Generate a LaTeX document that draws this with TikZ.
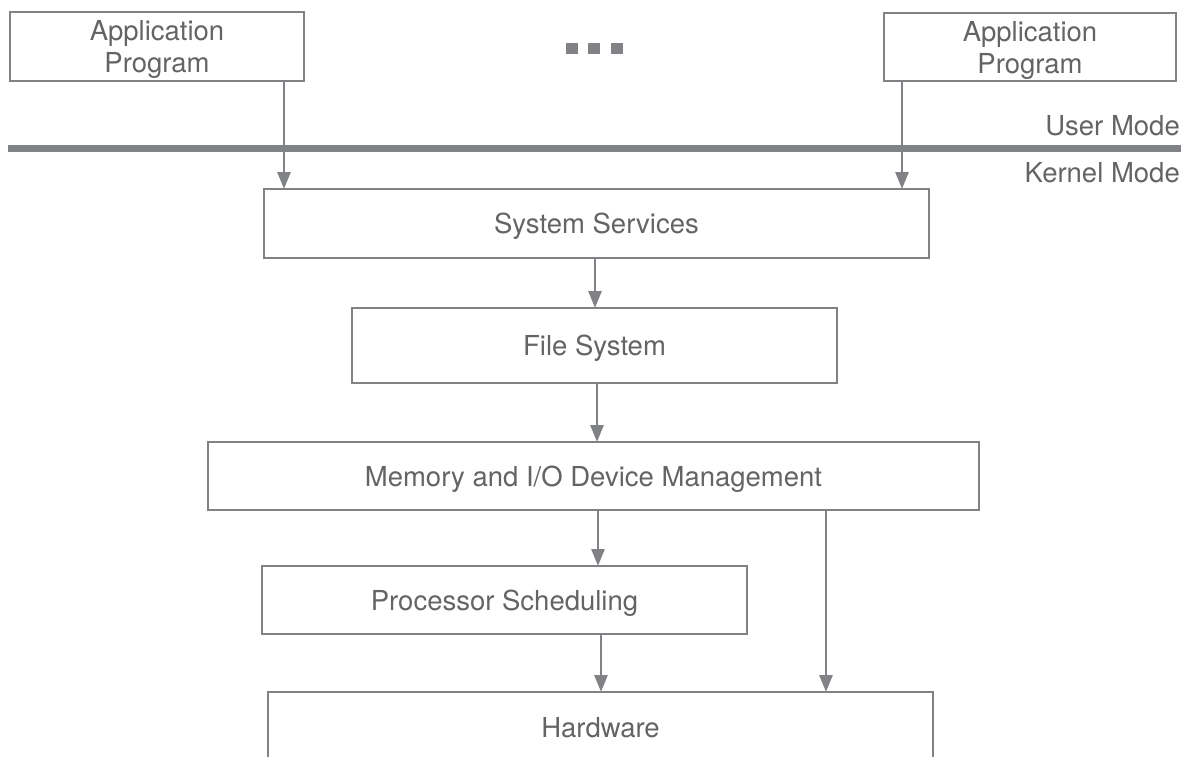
\documentclass[tikz,border=0pt]{standalone}
\usepackage{fontspec}
\setmainfont{TeX Gyre Heros}
\usetikzlibrary{arrows.meta}
\definecolor{linegray}{HTML}{808285}
\definecolor{textgray}{HTML}{636466}
% two centred lines, set a little lower than the box keeps them
\newcommand{\twolines}[2]{\raisebox{-4pt}[\height][\depth]{\begin{tabular}{@{}c@{}}#1\\[1pt]#2\end{tabular}}}
\tikzset{
  boxbase/.style={draw=linegray, line width=2.5pt, fill=white, text=textgray,
    rectangle, inner sep=0pt, outer sep=0pt,
    font=\fontsize{27.5}{31}\selectfont},
  layer/.style={boxbase, text height=20pt, text depth=0pt},
  program/.style={boxbase},
  flow/.style={draw=linegray, line width=2.8pt,
    -{Triangle[width=13pt,length=17pt]}},
  modelabel/.style={text=textgray, anchor=east, inner sep=0pt,
    text height=20pt, text depth=0pt,
    font=\fontsize{27.5}{31}\selectfont},
  dot/.style={fill=linegray, draw=none}
}
\begin{document}
\begin{tikzpicture}[x=1pt,y=-1pt]
  \useasboundingbox (0,0) rectangle (1189,756);
  \begin{scope}
    \clip (0,0) rectangle (1189,756);

    % user programs
    \node[program, minimum width=294pt, minimum height=69pt] (app1) at (157,46.5) {\twolines{Application}{Program}};
    \node[program, minimum width=292pt, minimum height=68pt] (app2) at (1030,47) {\twolines{Application}{Program}};

    % ellipsis between the programs
    \fill[dot] (566,43) rectangle (578,54);
    \fill[dot] (588,43) rectangle (600,54);
    \fill[dot] (611,43) rectangle (623,54);

    % user / kernel boundary
    \coordinate (bl) at (8,148);
    \coordinate (br) at (1181,148);
    \draw[linegray, line width=7pt] (bl) -- (br);
    \node[modelabel] (user) at (1180,125) {User Mode};
    \node[modelabel] (kernel) at (1180,172.5) {Kernel Mode};

    % kernel layers
    \node[layer, minimum width=665pt, minimum height=69pt] (ss) at (596.5,223.5) {System Services};
    \node[layer, minimum width=485pt, minimum height=75pt] (fs) at (594.5,345.5) {File System};
    \node[layer, minimum width=771pt, minimum height=68pt] (mem) at (593.5,476) {Memory and I/O Device Management};
    \node[layer, minimum width=485pt, minimum height=68pt] (ps) at (504.5,600) {Processor Scheduling};
    \node[layer, minimum width=665pt, minimum height=70pt] (hw) at (600.5,727) {Hardware};

    % connector columns
    \coordinate (c1) at (284,0);
    \coordinate (c2) at (902,0);
    \coordinate (c3) at (595,0);
    \coordinate (c4) at (597,0);
    \coordinate (c5) at (598,0);
    \coordinate (c6) at (826,0);
    \coordinate (c7) at (601,0);

    \draw[flow] (app1.south -| c1) -- (ss.north -| c1);
    \draw[flow] (app2.south -| c2) -- (ss.north -| c2);
    \draw[flow] (ss.south -| c3) -- (fs.north -| c3);
    \draw[flow] (fs.south -| c4) -- (mem.north -| c4);
    \draw[flow] (mem.south -| c5) -- (ps.north -| c5);
    \draw[flow] (mem.south -| c6) -- (hw.north -| c6);
    \draw[flow] (ps.south -| c7) -- (hw.north -| c7);
  \end{scope}
\end{tikzpicture}
\end{document}
